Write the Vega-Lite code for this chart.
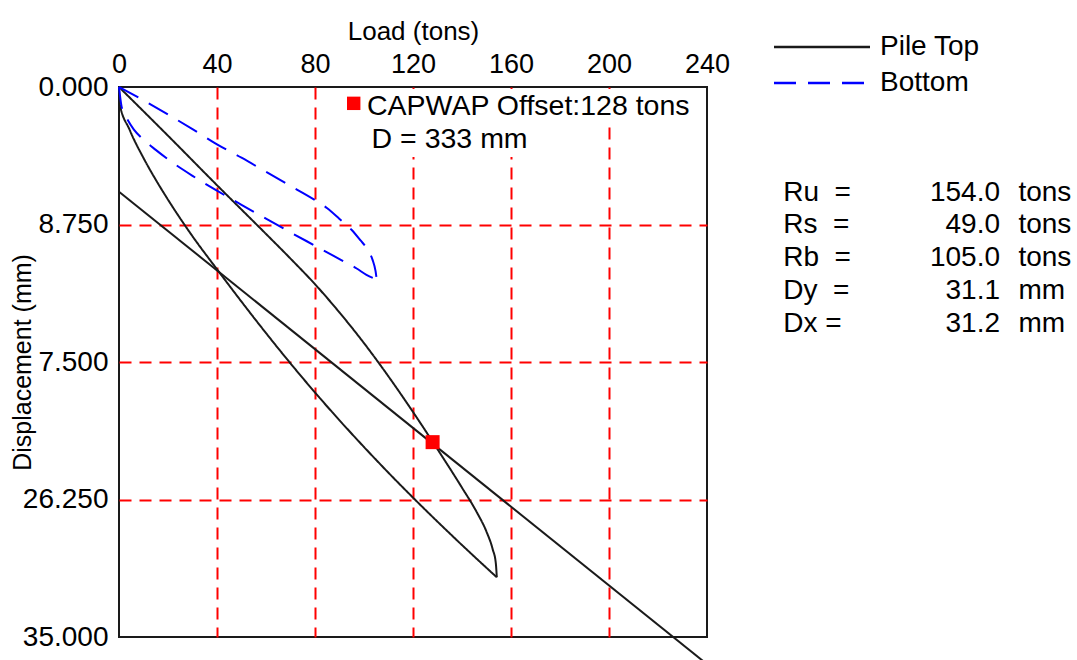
{
  "$schema": "https://vega.github.io/schema/vega-lite/v6.json",
  "width": 588,
  "height": 550,
  "autosize": {"type": "none"},
  "padding": {"left": 119, "top": 87, "right": 370, "bottom": 23},
  "background": "white",
  "config": {
    "view": {"stroke": "#1a1a1a", "strokeWidth": 2},
    "font": "Liberation Sans",
    "axis": {
      "labelFont": "Liberation Sans",
      "titleFont": "Liberation Sans",
      "labelColor": "#000",
      "titleColor": "#000",
      "titleFontWeight": "normal",
      "ticks": false,
      "tickSize": 0,
      "domain": false,
      "grid": true,
      "gridColor": "#ff0000",
      "gridDash": [12, 8],
      "gridWidth": 2,
      "gridOpacity": 1
    },
    "text": {"font": "Liberation Sans", "color": "#000"}
  },
  "datasets": {
    "curves": [
      {"curve": "Pile Top", "branch": "top-a", "load": 0, "disp": 0},
      {"curve": "Pile Top", "branch": "top-a", "load": 20, "disp": 3.1},
      {"curve": "Pile Top", "branch": "top-a", "load": 40, "disp": 6.25},
      {"curve": "Pile Top", "branch": "top-a", "load": 60, "disp": 9.35},
      {"curve": "Pile Top", "branch": "top-a", "load": 70, "disp": 10.92},
      {"curve": "Pile Top", "branch": "top-a", "load": 80, "disp": 12.55},
      {"curve": "Pile Top", "branch": "top-a", "load": 90, "disp": 14.35},
      {"curve": "Pile Top", "branch": "top-a", "load": 100, "disp": 16.3},
      {"curve": "Pile Top", "branch": "top-a", "load": 110, "disp": 18.42},
      {"curve": "Pile Top", "branch": "top-a", "load": 120, "disp": 20.68},
      {"curve": "Pile Top", "branch": "top-a", "load": 130, "disp": 23.05},
      {"curve": "Pile Top", "branch": "top-a", "load": 140, "disp": 25.5},
      {"curve": "Pile Top", "branch": "top-a", "load": 146, "disp": 27.05},
      {"curve": "Pile Top", "branch": "top-a", "load": 150, "disp": 28.3},
      {"curve": "Pile Top", "branch": "top-a", "load": 152.5, "disp": 29.4},
      {"curve": "Pile Top", "branch": "top-a", "load": 153.8, "disp": 30.3},
      {"curve": "Pile Top", "branch": "top-a", "load": 154.2, "disp": 31.2},
      {"curve": "Pile Top", "branch": "top-b", "load": 0, "disp": 0},
      {"curve": "Pile Top", "branch": "top-b", "load": 0.2, "disp": 1.0},
      {"curve": "Pile Top", "branch": "top-b", "load": 4.3, "disp": 2.71},
      {"curve": "Pile Top", "branch": "top-b", "load": 10, "disp": 4.52},
      {"curve": "Pile Top", "branch": "top-b", "load": 15, "disp": 5.9},
      {"curve": "Pile Top", "branch": "top-b", "load": 20, "disp": 7.17},
      {"curve": "Pile Top", "branch": "top-b", "load": 30, "disp": 9.5},
      {"curve": "Pile Top", "branch": "top-b", "load": 40, "disp": 11.6},
      {"curve": "Pile Top", "branch": "top-b", "load": 50, "disp": 13.66},
      {"curve": "Pile Top", "branch": "top-b", "load": 60, "disp": 15.66},
      {"curve": "Pile Top", "branch": "top-b", "load": 70, "disp": 17.59},
      {"curve": "Pile Top", "branch": "top-b", "load": 80, "disp": 19.44},
      {"curve": "Pile Top", "branch": "top-b", "load": 90, "disp": 21.21},
      {"curve": "Pile Top", "branch": "top-b", "load": 100, "disp": 22.91},
      {"curve": "Pile Top", "branch": "top-b", "load": 110, "disp": 24.55},
      {"curve": "Pile Top", "branch": "top-b", "load": 120, "disp": 26.13},
      {"curve": "Pile Top", "branch": "top-b", "load": 130, "disp": 27.66},
      {"curve": "Pile Top", "branch": "top-b", "load": 140, "disp": 29.15},
      {"curve": "Pile Top", "branch": "top-b", "load": 154.2, "disp": 31.2},
      {"curve": "Bottom", "branch": "bot-a", "load": 0, "disp": 0},
      {"curve": "Bottom", "branch": "bot-a", "load": 10, "disp": 0.85},
      {"curve": "Bottom", "branch": "bot-a", "load": 20, "disp": 1.75},
      {"curve": "Bottom", "branch": "bot-a", "load": 30, "disp": 2.68},
      {"curve": "Bottom", "branch": "bot-a", "load": 40, "disp": 3.65},
      {"curve": "Bottom", "branch": "bot-a", "load": 50, "disp": 4.5},
      {"curve": "Bottom", "branch": "bot-a", "load": 60, "disp": 5.4},
      {"curve": "Bottom", "branch": "bot-a", "load": 70, "disp": 6.3},
      {"curve": "Bottom", "branch": "bot-a", "load": 80, "disp": 7.2},
      {"curve": "Bottom", "branch": "bot-a", "load": 85, "disp": 7.72},
      {"curve": "Bottom", "branch": "bot-a", "load": 90, "disp": 8.4},
      {"curve": "Bottom", "branch": "bot-a", "load": 95, "disp": 9.1},
      {"curve": "Bottom", "branch": "bot-a", "load": 98.5, "disp": 9.75},
      {"curve": "Bottom", "branch": "bot-a", "load": 101.5, "disp": 10.35},
      {"curve": "Bottom", "branch": "bot-a", "load": 103.5, "disp": 11.0},
      {"curve": "Bottom", "branch": "bot-a", "load": 104.7, "disp": 11.7},
      {"curve": "Bottom", "branch": "bot-a", "load": 105.2, "disp": 12.25},
      {"curve": "Bottom", "branch": "bot-b", "load": 0, "disp": 0},
      {"curve": "Bottom", "branch": "bot-b", "load": 1, "disp": 1.2},
      {"curve": "Bottom", "branch": "bot-b", "load": 2, "disp": 1.65},
      {"curve": "Bottom", "branch": "bot-b", "load": 3, "disp": 1.95},
      {"curve": "Bottom", "branch": "bot-b", "load": 6, "disp": 2.7},
      {"curve": "Bottom", "branch": "bot-b", "load": 10, "disp": 3.35},
      {"curve": "Bottom", "branch": "bot-b", "load": 15, "disp": 4.0},
      {"curve": "Bottom", "branch": "bot-b", "load": 20, "disp": 4.6},
      {"curve": "Bottom", "branch": "bot-b", "load": 30, "disp": 5.65},
      {"curve": "Bottom", "branch": "bot-b", "load": 40, "disp": 6.6},
      {"curve": "Bottom", "branch": "bot-b", "load": 50, "disp": 7.5},
      {"curve": "Bottom", "branch": "bot-b", "load": 60, "disp": 8.38},
      {"curve": "Bottom", "branch": "bot-b", "load": 70, "disp": 9.25},
      {"curve": "Bottom", "branch": "bot-b", "load": 80, "disp": 10.1},
      {"curve": "Bottom", "branch": "bot-b", "load": 90, "disp": 10.95},
      {"curve": "Bottom", "branch": "bot-b", "load": 97, "disp": 11.55},
      {"curve": "Bottom", "branch": "bot-b", "load": 101, "disp": 11.95},
      {"curve": "Bottom", "branch": "bot-b", "load": 105.2, "disp": 12.25}
    ],
    "offset": [
      {"load": 0, "disp": 6.66},
      {"load": 240, "disp": 36.73}
    ],
    "capwap": [
      {"load": 128, "disp": 22.6}
    ],
    "stats": [
      {"param": "Ru\u00a0\u00a0=", "value": "154.0", "unit": "tons"},
      {"param": "Rs\u00a0\u00a0=", "value": "49.0", "unit": "tons"},
      {"param": "Rb\u00a0\u00a0=", "value": "105.0", "unit": "tons"},
      {"param": "Dy\u00a0\u00a0=", "value": "31.1", "unit": "mm"},
      {"param": "Dx\u00a0=", "value": "31.2", "unit": "mm"}
    ]
  },
  "layer": [
    {
      "layer": [
        {
          "data": {"values": [{}]},
          "mark": {"type": "rect", "color": "white"},
          "encoding": {
            "x": {"datum": 92, "type": "quantitative", "scale": {"domain": [0, 240], "nice": false, "zero": false}},
            "x2": {"datum": 239},
            "y": {"datum": 0.13, "type": "quantitative", "scale": {"domain": [0, 35], "nice": false, "reverse": true}},
            "y2": {"datum": 2.35}
          }
        },
        {
          "data": {"values": [{}]},
          "mark": {"type": "rect", "color": "white"},
          "encoding": {
            "x": {"datum": 100.4, "type": "quantitative"},
            "x2": {"datum": 172},
            "y": {"datum": 2.35, "type": "quantitative"},
            "y2": {"datum": 4.45}
          }
        },
        {
          "data": {"name": "offset"},
          "mark": {"type": "line", "color": "#1a1a1a", "strokeWidth": 2, "clip": false},
          "encoding": {
            "x": {"field": "load", "type": "quantitative", "title": "Load (tons)"},
            "y": {"field": "disp", "type": "quantitative", "title": "Displacement (mm)"}
          }
        },
        {
          "data": {"name": "curves"},
          "mark": {"type": "line", "interpolate": "monotone", "strokeWidth": 2, "clip": false},
          "encoding": {
            "x": {
              "field": "load",
              "type": "quantitative",
              "title": "Load (tons)",
              "axis": {
                "orient": "top",
                "grid": true,
                "values": [0, 40, 80, 120, 160, 200, 240],
                "labelFontSize": 27,
                "labelPadding": 9,
                "labelFlush": false,
                "labelOverlap": false,
                "titleFontSize": 26,
                "titlePadding": 6,
                "gridOpacity": {"condition": {"test": "datum.value == 0 || datum.value == 240", "value": 0}, "value": 1}
              }
            },
            "y": {
              "field": "disp",
              "type": "quantitative",
              "title": "Displacement (mm)",
              "axis": {
                "grid": true,
                "values": [0, 8.75, 17.5, 26.25, 35],
                "labelExpr": "datum.value == 17.5 ? '7.500' : format(datum.value, '.3f')",
                "labelFontSize": 28,
                "labelPadding": 11,
                "labelFlush": false,
                "labelOverlap": false,
                "titleFontSize": 25,
                "titleX": -84,
                "titleY": 275,
                "gridOpacity": {"condition": {"test": "datum.value == 0 || datum.value == 35", "value": 0}, "value": 1}
              }
            },
            "color": {
              "field": "curve",
              "type": "nominal",
              "scale": {"domain": ["Pile Top", "Bottom"], "range": ["#1a1a1a", "#0000ff"]},
              "legend": {
                "orient": "none",
                "legendX": 689,
                "legendY": -54,
                "title": null,
                "symbolType": "M-4,0H4",
                "symbolSize": 576,
                "symbolStrokeWidth": 2.5,
                "labelFontSize": 28,
                "labelFont": "Liberation Sans",
                "labelColor": "#000",
                "rowPadding": 8,
                "labelOffset": 44,
                "padding": 0
              }
            },
            "strokeDash": {
              "field": "curve",
              "type": "nominal",
              "scale": {"domain": ["Pile Top", "Bottom"], "range": [[1, 0], [22, 12]]},
              "legend": {
                "orient": "none",
                "legendX": 689,
                "legendY": -54,
                "title": null,
                "symbolType": "M-4,0H4",
                "symbolSize": 576,
                "symbolStrokeWidth": 2.5,
                "labelFontSize": 28,
                "labelFont": "Liberation Sans",
                "labelColor": "#000",
                "rowPadding": 8,
                "labelOffset": 44,
                "padding": 0
              }
            },
            "detail": {"field": "branch", "type": "nominal"}
          }
        },
        {
          "data": {"name": "capwap"},
          "mark": {"type": "point", "shape": "square", "filled": true, "color": "#ff0000", "size": 196, "opacity": 1},
          "encoding": {
            "x": {"field": "load", "type": "quantitative", "title": "Load (tons)"},
            "y": {"field": "disp", "type": "quantitative", "title": "Displacement (mm)"}
          }
        },
        {
          "data": {"values": [{}]},
          "mark": {"type": "point", "shape": "square", "filled": true, "color": "#ff0000", "size": 180, "opacity": 1},
          "encoding": {
            "x": {"datum": 95.8, "type": "quantitative"},
            "y": {"datum": 1.04, "type": "quantitative"}
          }
        },
        {
          "data": {"values": [{}]},
          "mark": {"type": "text", "align": "left", "baseline": "alphabetic", "fontSize": 28.5},
          "encoding": {
            "x": {"datum": 101.2, "type": "quantitative"},
            "y": {"datum": 1.78, "type": "quantitative"},
            "text": {"value": "CAPWAP Offset:128 tons"}
          }
        },
        {
          "data": {"values": [{}]},
          "mark": {"type": "text", "align": "left", "baseline": "alphabetic", "fontSize": 28.5},
          "encoding": {
            "x": {"datum": 103.1, "type": "quantitative"},
            "y": {"datum": 3.9, "type": "quantitative"},
            "text": {"value": "D = 333 mm"}
          }
        }
      ]
    },
    {
      "data": {"name": "stats"},
      "encoding": {
        "y": {
          "field": "param",
          "type": "ordinal",
          "sort": null,
          "axis": null,
          "scale": {"type": "point", "range": [113.5, 245.3], "padding": 0}
        }
      },
      "layer": [
        {
          "mark": {"type": "text", "align": "left", "baseline": "alphabetic", "fontSize": 28},
          "encoding": {
            "x": {"datum": 271.1, "type": "quantitative"},
            "text": {"field": "param"}
          }
        },
        {
          "mark": {"type": "text", "align": "right", "baseline": "alphabetic", "fontSize": 28},
          "encoding": {
            "x": {"datum": 359.6, "type": "quantitative"},
            "text": {"field": "value"}
          }
        },
        {
          "mark": {"type": "text", "align": "left", "baseline": "alphabetic", "fontSize": 28},
          "encoding": {
            "x": {"datum": 367.1, "type": "quantitative"},
            "text": {"field": "unit"}
          }
        }
      ]
    }
  ],
  "resolve": {"scale": {"y": "independent"}}
}
